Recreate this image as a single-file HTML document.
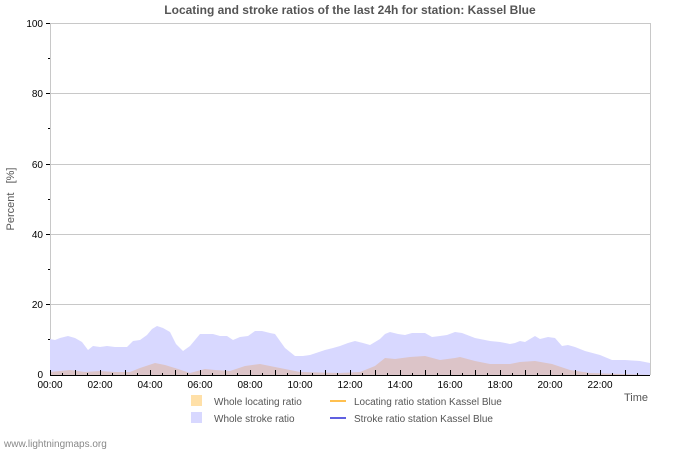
<!DOCTYPE html>
<html><head><style>
body{margin:0;background:#fff;}
svg text{font-family:"Liberation Sans","DejaVu Sans",sans-serif;white-space:pre;}
</style></head><body>
<svg width="700" height="450" xmlns="http://www.w3.org/2000/svg">
<rect width="700" height="450" fill="#fff"/>
<text x="350" y="14" text-anchor="middle" font-size="12" font-weight="bold" fill="#555">Locating and stroke ratios of the last 24h for station: Kassel Blue</text>
<g stroke="#c8c8c8" stroke-width="1">
<line x1="50" y1="23.5" x2="650" y2="23.5"/>
<line x1="50" y1="93.5" x2="650" y2="93.5"/>
<line x1="50" y1="164.5" x2="650" y2="164.5"/>
<line x1="50" y1="234.5" x2="650" y2="234.5"/>
<line x1="50" y1="304.5" x2="650" y2="304.5"/>
<line x1="650.5" y1="23" x2="650.5" y2="375"/>
<line x1="50.5" y1="23" x2="50.5" y2="375"/>
</g>
<polygon fill="#d8d8ff" points="50,375 50,339 55,340 60,338 68,336 75,338 82,342 88,350 93,346 100,347 107,346 115,347 127,347 133,341 140,340 147,335 152,329 157,326 163,328 170,332 176,344 183,351 190,346 200,334 213,334 220,336 227,336 233,340 240,337 248,336 255,331 262,331 270,333 275,334 285,348 295,356 303,356 310,355 325,350 333,348 340,346 348,343 355,341 363,343 370,345 380,339 385,334 390,332 398,334 405,335 412,333 425,333 432,337 440,336 447,335 455,332 462,333 475,338 490,341 500,342 510,344 515,343 520,341 525,342 535,336 540,339 548,337 555,338 562,346 568,345 575,347 585,351 600,355 612,360 625,360 640,361 650,363 650,375"/>
<polygon fill="#dcc4c8" points="50,375 50,372 70,370 85,372 100,371 115,372 130,372 140,368 155,363 165,365 178,369 190,373 205,369 215,370 230,371 245,366 260,364 275,367 290,370 300,372 340,373 360,372 375,366 385,358 395,359 410,357 425,356 440,360 455,358 460,357 475,361 490,364 510,364 520,362 535,361 552,364 570,370 590,373 650,375"/>
<g stroke="#000" stroke-width="1">
<line x1="46" y1="23.5" x2="50" y2="23.5"/><line x1="46" y1="93.5" x2="50" y2="93.5"/><line x1="46" y1="164.5" x2="50" y2="164.5"/><line x1="46" y1="234.5" x2="50" y2="234.5"/><line x1="46" y1="304.5" x2="50" y2="304.5"/>
<line x1="48" y1="58.5" x2="50" y2="58.5"/><line x1="48" y1="128.5" x2="50" y2="128.5"/><line x1="48" y1="199.5" x2="50" y2="199.5"/><line x1="48" y1="269.5" x2="50" y2="269.5"/><line x1="48" y1="339.5" x2="50" y2="339.5"/>
</g>
<path stroke="#000" stroke-width="1" fill="none" d="M50.5 370V375M62.5 373V375M75.5 370V375M87.5 373V375M100.5 370V375M112.5 373V375M125.5 370V375M137.5 373V375M150.5 370V375M162.5 373V375M175.5 370V375M187.5 373V375M200.5 370V375M212.5 373V375M225.5 370V375M237.5 373V375M250.5 370V375M262.5 373V375M275.5 370V375M287.5 373V375M300.5 370V375M312.5 373V375M325.5 370V375M337.5 373V375M350.5 370V375M362.5 373V375M375.5 370V375M387.5 373V375M400.5 370V375M412.5 373V375M425.5 370V375M437.5 373V375M450.5 370V375M462.5 373V375M475.5 370V375M487.5 373V375M500.5 370V375M512.5 373V375M525.5 370V375M537.5 373V375M550.5 370V375M562.5 373V375M575.5 370V375M587.5 373V375M600.5 370V375M612.5 373V375M625.5 370V375M637.5 373V375"/>
<line x1="50" y1="375.5" x2="650" y2="375.5" stroke="#000"/>
<g font-size="10" fill="#000" text-anchor="end">
<text x="43" y="27">100</text><text x="43" y="97">80</text><text x="43" y="168">60</text><text x="43" y="238">40</text><text x="43" y="308">20</text><text x="43" y="378">0</text>
</g>
<g font-size="10" fill="#000" text-anchor="middle">
<text x="50" y="388">00:00</text><text x="100" y="388">02:00</text><text x="150" y="388">04:00</text><text x="200" y="388">06:00</text><text x="250" y="388">08:00</text><text x="300" y="388">10:00</text><text x="350" y="388">12:00</text><text x="400" y="388">14:00</text><text x="450" y="388">16:00</text><text x="500" y="388">18:00</text><text x="550" y="388">20:00</text><text x="600" y="388">22:00</text>
</g>
<text x="14" y="199" font-size="11" fill="#555" text-anchor="middle" transform="rotate(-90 14 199)">Percent   [%]</text>
<text x="648" y="401" font-size="11" fill="#555" text-anchor="end">Time</text>
<rect x="191" y="395" width="11" height="11" fill="#ffe0a8"/>
<text x="214" y="405" font-size="10" fill="#555">Whole locating ratio</text>
<rect x="191" y="412" width="11" height="11" fill="#d8d8ff"/>
<text x="214" y="422" font-size="10" fill="#555">Whole stroke ratio</text>
<line x1="330" y1="401" x2="346" y2="401" stroke="#ffc050" stroke-width="2"/>
<text x="354" y="405" font-size="10" fill="#555">Locating ratio station Kassel Blue</text>
<line x1="330" y1="418" x2="346" y2="418" stroke="#6060e0" stroke-width="2"/>
<text x="354" y="422" font-size="10" fill="#555">Stroke ratio station Kassel Blue</text>
<text x="4" y="447" font-size="10" fill="#888">www.lightningmaps.org</text>
</svg>
</body></html>
